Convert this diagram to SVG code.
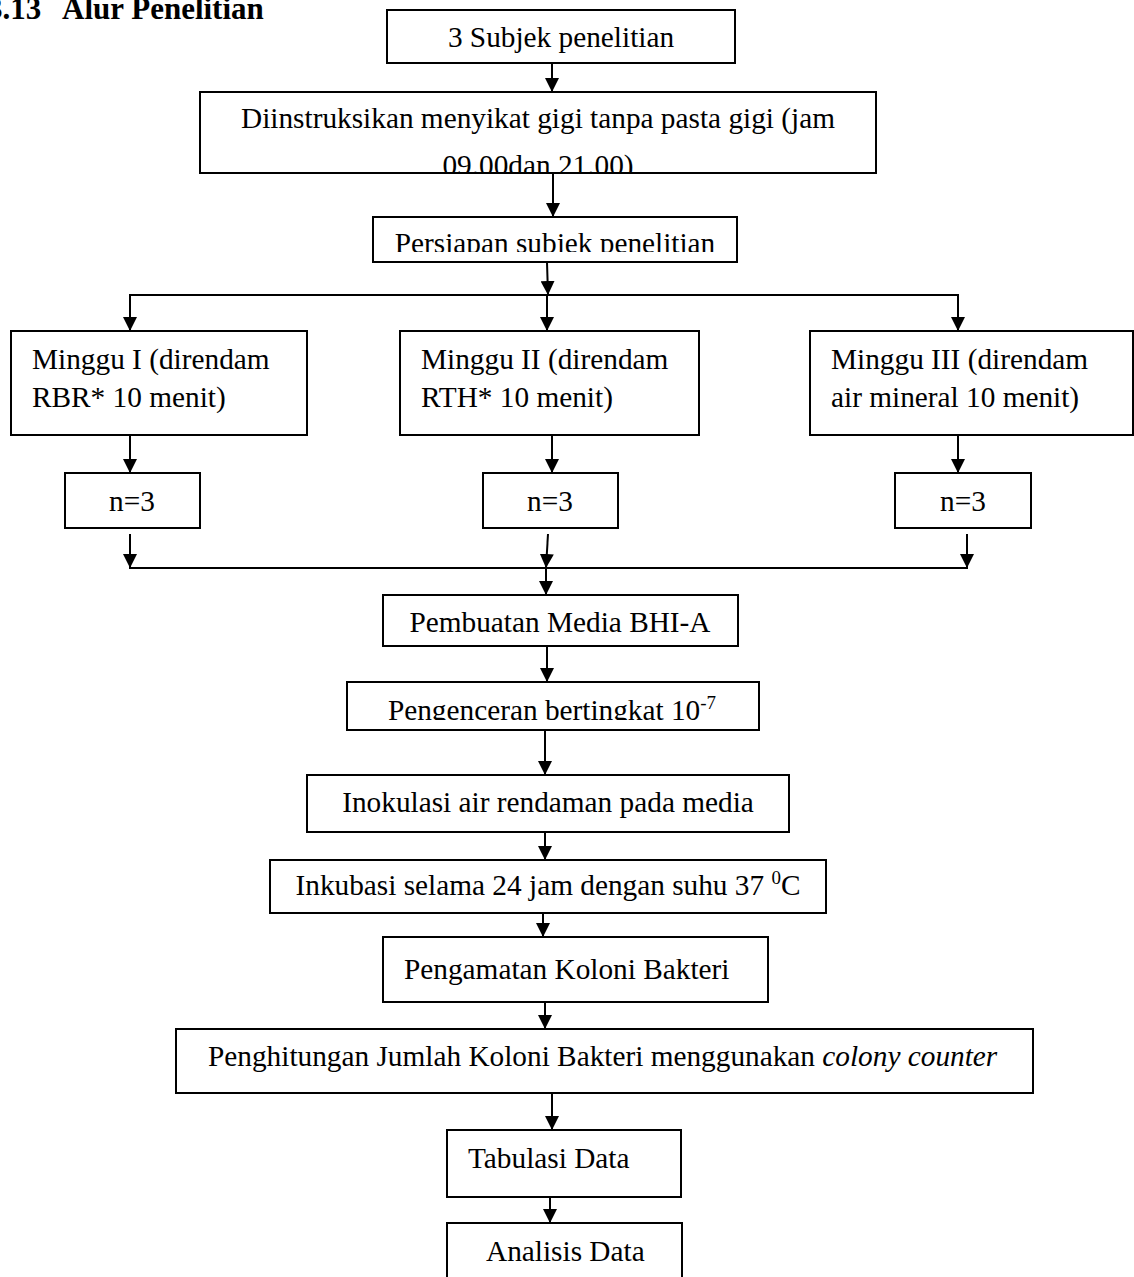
<svg xmlns="http://www.w3.org/2000/svg" width="1134" height="1277" viewBox="0 0 1134 1277">
<style>
.bg{fill:#fff}
.box{fill:#fff;stroke:#000;stroke-width:2}
.t{font-family:"Liberation Serif","Times New Roman",serif;font-size:29.3px;fill:#000}
.c{text-anchor:middle}
.title{font-family:"Liberation Serif","Times New Roman",serif;font-size:31px;font-weight:bold;fill:#000}
.sup{font-size:19px}
.ln{stroke:#000;stroke-width:2;fill:none}
.ar{stroke:#000;stroke-width:2;fill:none;marker-end:url(#ah)}
</style>
<defs>
<marker id="ah" viewBox="0 0 14 14" refX="14" refY="7" markerWidth="14" markerHeight="14" markerUnits="userSpaceOnUse" orient="auto">
<path d="M0,0 L14,7 L0,14 Z" fill="#000"/>
</marker>
<clipPath id="clip2"><rect x="200" y="92" width="676" height="80"/></clipPath>
<clipPath id="clip3"><rect x="373" y="217" width="364" height="35"/></clipPath>
<clipPath id="clipP"><rect x="347" y="682" width="412" height="38"/></clipPath>
</defs>
<rect class="bg" x="0" y="0" width="1134" height="1277"/>
<text class="title" y="19"><tspan x="-13">3.13</tspan><tspan x="62">Alur Penelitian</tspan></text>

<g id="connectors">
<line class="ar" x1="552" y1="63" x2="552" y2="92"/>
<line class="ar" x1="553" y1="173" x2="553" y2="217"/>
<line class="ar" x1="547" y1="262" x2="548" y2="295"/>
<line class="ln" x1="129" y1="295" x2="959" y2="295"/>
<line class="ar" x1="130" y1="295" x2="130" y2="331"/>
<line class="ar" x1="547" y1="295" x2="547" y2="331"/>
<line class="ar" x1="958" y1="295" x2="958" y2="331"/>
<line class="ar" x1="130" y1="435" x2="130" y2="473"/>
<line class="ar" x1="552" y1="435" x2="552" y2="473"/>
<line class="ar" x1="958" y1="435" x2="958" y2="473"/>
<line class="ar" x1="130" y1="534" x2="130" y2="568"/>
<line class="ar" x1="548" y1="534" x2="546" y2="568"/>
<line class="ar" x1="967" y1="534" x2="967" y2="568"/>
<line class="ln" x1="129" y1="568" x2="968" y2="568"/>
<line class="ar" x1="546" y1="568" x2="546" y2="595"/>
<line class="ar" x1="547" y1="647" x2="547" y2="682"/>
<line class="ar" x1="545" y1="730" x2="545" y2="775"/>
<line class="ar" x1="545" y1="832" x2="545" y2="860"/>
<line class="ar" x1="543" y1="913" x2="543" y2="937"/>
<line class="ar" x1="545" y1="1002" x2="545" y2="1029"/>
<line class="ar" x1="552" y1="1093" x2="552" y2="1130"/>
<line class="ar" x1="550" y1="1197" x2="550" y2="1223"/>
</g>

<g id="n1">
<rect class="box" x="387" y="10" width="348" height="53"/>
<text class="t c" x="561" y="47">3 Subjek penelitian</text>
</g>
<g id="n2">
<rect class="box" x="200" y="92" width="676" height="81"/>
<g clip-path="url(#clip2)">
<text class="t c" x="538" y="128">Diinstruksikan menyikat gigi tanpa pasta gigi (jam</text>
<text class="t c" x="538" y="175">09.00dan 21.00)</text>
</g>
</g>
<g id="n3">
<rect class="box" x="373" y="217" width="364" height="45"/>
<g clip-path="url(#clip3)">
<text class="t c" x="555" y="253">Persiapan subjek penelitian</text>
</g>
</g>
<g id="n4">
<rect class="box" x="11" y="331" width="296" height="104"/>
<text class="t" x="32" y="369">Minggu I (direndam</text>
<text class="t" x="32" y="407">RBR* 10 menit)</text>
</g>
<g id="n5">
<rect class="box" x="400" y="331" width="299" height="104"/>
<text class="t" x="421" y="369">Minggu II (direndam</text>
<text class="t" x="421" y="407">RTH* 10 menit)</text>
</g>
<g id="n6">
<rect class="box" x="810" y="331" width="323" height="104"/>
<text class="t" x="831" y="369">Minggu III (direndam</text>
<text class="t" x="831" y="407">air mineral 10 menit)</text>
</g>
<g id="n7">
<rect class="box" x="65" y="473" width="135" height="55"/>
<text class="t c" x="132" y="511">n=3</text>
</g>
<g id="n8">
<rect class="box" x="483" y="473" width="135" height="55"/>
<text class="t c" x="550" y="511">n=3</text>
</g>
<g id="n9">
<rect class="box" x="895" y="473" width="136" height="55"/>
<text class="t c" x="963" y="511">n=3</text>
</g>
<g id="n10">
<rect class="box" x="383" y="595" width="355" height="51"/>
<text class="t c" x="560" y="632">Pembuatan Media BHI-A</text>
</g>
<g id="n11">
<rect class="box" x="347" y="682" width="412" height="48"/>
<g clip-path="url(#clipP)">
<text class="t c" x="552" y="720">Pengenceran bertingkat 10<tspan class="sup" dy="-11">-7</tspan></text>
</g>
</g>
<g id="n12">
<rect class="box" x="307" y="775" width="482" height="57"/>
<text class="t c" x="548" y="812">Inokulasi air rendaman pada media</text>
</g>
<g id="n13">
<rect class="box" x="270" y="860" width="556" height="53"/>
<text class="t c" x="548" y="895">Inkubasi selama 24 jam dengan suhu 37 <tspan class="sup" dy="-11">0</tspan><tspan dy="11">C</tspan></text>
</g>
<g id="n14">
<rect class="box" x="383" y="937" width="385" height="65"/>
<text class="t" x="404" y="979">Pengamatan Koloni Bakteri</text>
</g>
<g id="n15">
<rect class="box" x="176" y="1029" width="857" height="64"/>
<text class="t" x="208" y="1066">Penghitungan Jumlah Koloni Bakteri menggunakan <tspan font-style="italic">colony counter</tspan></text>
</g>
<g id="n16">
<rect class="box" x="447" y="1130" width="234" height="67"/>
<text class="t" x="468" y="1168">Tabulasi Data</text>
</g>
<g id="n17">
<rect class="box" x="447" y="1223" width="235" height="60"/>
<text class="t" x="486" y="1261">Analisis Data</text>
</g>
</svg>
